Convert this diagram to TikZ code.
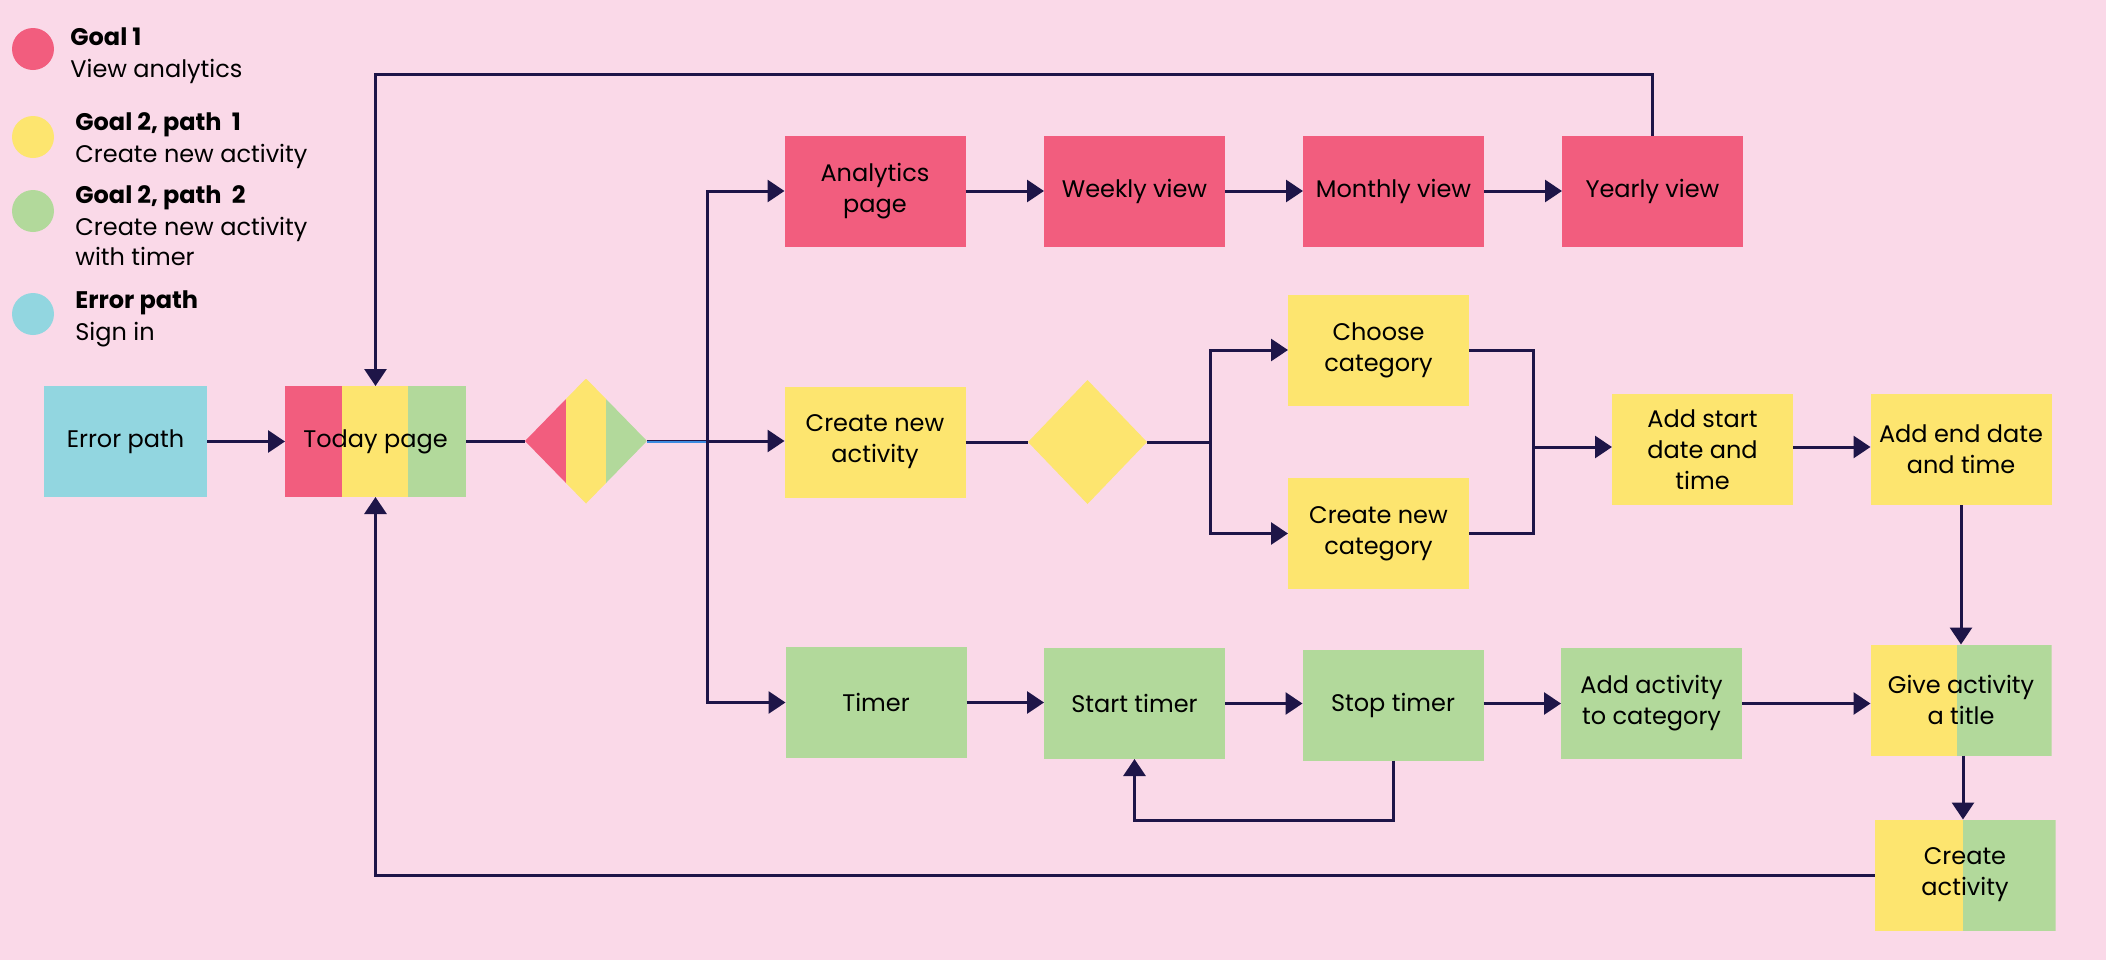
\documentclass[tikz,border=0pt]{standalone}
\usepackage{fontspec}
\setmainfont{Poppins}
\usetikzlibrary{arrows.meta,shapes.geometric,calc}
\definecolor{bgpink}{HTML}{FAD9E8}
\definecolor{gred}{HTML}{F25D7E}
\definecolor{gyel}{HTML}{FDE56F}
\definecolor{ggrn}{HTML}{B2D99B}
\definecolor{gblu}{HTML}{92D6E0}
\definecolor{lnc}{HTML}{1E1548}
\definecolor{selblue}{HTML}{3C8BE0}
\tikzset{
  box/.style={rectangle, minimum width=90.5pt, minimum height=55.5pt, inner sep=1pt, outer sep=0pt,
    align=center, font=\fontsize{12}{15.5}\selectfont, text=black},
  redbox/.style={box, fill=gred},
  yelbox/.style={box, fill=gyel},
  grnbox/.style={box, fill=ggrn},
  blubox/.style={box, fill=gblu},
  conn/.style={draw=lnc, line width=1.5pt},
  arr/.style={conn, -{Triangle[length=8.5pt,width=11pt]}},
  legtxt/.style={anchor=base west, inner sep=0pt, font=\fontsize{12}{15.5}\selectfont, text=black},
  legdot/.style={circle, minimum size=21pt, inner sep=0pt},
}
\begin{document}
\begin{tikzpicture}[x=0.5pt,y=-0.5pt]
\fill[bgpink] (0,0) rectangle (2106,960);
\useasboundingbox (0,0) rectangle (2106,960);

% legend
\node[legdot, fill=gred] (c1) at (33,49) {};
\node[legdot, fill=gyel] (c2) at (33,137) {};
\node[legdot, fill=ggrn] (c3) at (33,211) {};
\node[legdot, fill=gblu] (c4) at (33,314) {};
\node[legtxt] (l1a) at (70,45) {\textbf{Goal 1}};
\node[legtxt] (l1b) at (70,77) {View analytics};
\node[legtxt] (l2a) at (75,130) {\textbf{Goal 2, path\ \ 1}};
\node[legtxt] (l2b) at (75,162) {Create new activity};
\node[legtxt] (l3a) at (75,203) {\textbf{Goal 2, path\ \ 2}};
\node[legtxt] (l3b) at (75,235) {Create new activity};
\node[legtxt] (l3c) at (75,265) {with timer};
\node[legtxt] (l4a) at (75,308) {\textbf{Error path}};
\node[legtxt] (l4b) at (75,340) {Sign in};

% nodes
\node[blubox, minimum width=81.5pt] (err) at (125.5,441.5) {Error path};
\node[box, path picture={
  \fill[gred] (path picture bounding box.north west) rectangle ($(path picture bounding box.south west)+(56.5,0)$);
  \fill[gyel] ($(path picture bounding box.north west)+(56.5,0)$) rectangle ($(path picture bounding box.south west)+(122.5,0)$);
  \fill[ggrn] ($(path picture bounding box.north west)+(122.5,0)$) rectangle (path picture bounding box.south east);
}] (today) at (375.5,441.5) {Today page};
\node[diamond, minimum width=61pt, minimum height=62.5pt, inner sep=0pt, outer sep=0pt, path picture={
  \fill[gred] (path picture bounding box.north west) rectangle ($(path picture bounding box.south west)+(41,0)$);
  \fill[gyel] ($(path picture bounding box.north west)+(41,0)$) rectangle ($(path picture bounding box.south west)+(81,0)$);
  \fill[ggrn] ($(path picture bounding box.north west)+(81,0)$) rectangle (path picture bounding box.south east);
}] (d1) at (586,441) {};

\node[redbox] (analytics) at (875,191) {Analytics\\page};
\node[redbox] (weekly) at (1134.5,191) {Weekly view};
\node[redbox] (monthly) at (1393.5,191) {Monthly view};
\node[redbox] (yearly) at (1652.5,191) {Yearly view};

\node[yelbox] (create) at (875,442) {Create new\\activity};
\node[diamond, fill=gyel, minimum width=59.5pt, minimum height=62pt, inner sep=0pt, outer sep=0pt] (d2) at (1087.5,442) {};
\node[yelbox] (choose) at (1378.5,350) {Choose\\category};
\node[yelbox] (newcat) at (1378.5,533.5) {Create new\\category};
\node[yelbox] (addstart) at (1702.5,449.5) {Add start\\date and\\time};
\node[yelbox] (addend) at (1961,449.5) {Add end date\\and time};

\node[grnbox] (timer) at (876,702.5) {Timer};
\node[grnbox] (start) at (1134.5,703.5) {Start timer};
\node[grnbox] (stop) at (1393,705) {Stop timer};
\node[grnbox] (addcat) at (1651.5,703.5) {Add activity\\to category};
\node[box, path picture={
  \fill[gyel] (path picture bounding box.north west) rectangle ($(path picture bounding box.south west)+(86,0)$);
  \fill[ggrn] ($(path picture bounding box.north west)+(86,0)$) rectangle (path picture bounding box.south east);
}] (give) at (1961,700) {Give activity\\a title};
\node[box, path picture={
  \fill[gyel] (path picture bounding box.north west) rectangle ($(path picture bounding box.south west)+(88,0)$);
  \fill[ggrn] ($(path picture bounding box.north west)+(88,0)$) rectangle (path picture bounding box.south east);
}] (createact) at (1965,875) {Create\\activity};

% coordinates
\coordinate (tr) at (707,441);
\coordinate (br) at (1210,442);
\coordinate (mg) at (1533,447);
\coordinate (topl) at (0,74);
\coordinate (loopl) at (0,820);

% connectors
\draw[arr] (err.east) -- (err.east -| today.west);
\draw[conn] (today.east |- d1.west) -- (d1.west);
\draw[conn] (d1.east) -- (tr);
\draw[selblue, line width=1pt] ([yshift=-0.4pt]d1.east) -- ([yshift=-0.4pt]tr);
\draw[arr] (tr) -- (tr -| create.west);
\draw[arr] (tr) |- (analytics.west);
\draw[arr] (tr) |- (timer.west);

\draw[arr] (analytics.east) -- (weekly.west);
\draw[arr] (weekly.east) -- (monthly.west);
\draw[arr] (monthly.east) -- (yearly.west);
\draw[arr] (yearly.north) -- (yearly.north |- topl) -| (today.north);

\draw[conn] (create.east) -- (d2.west);
\draw[conn] (d2.east) -- (br);
\draw[arr] (br) |- (choose.west);
\draw[arr] (br) |- (newcat.west);
\draw[conn] (choose.east) -| (mg);
\draw[conn] (newcat.east) -| (mg);
\draw[arr] (mg) -- (mg -| addstart.west);
\draw[arr] (addstart.east |- mg) -- (addend.west |- mg);
\draw[arr] (addend.south) -- (give.north);

\draw[arr] (timer.east) -- (timer.east -| start.west);
\draw[arr] (start.east) -- (start.east -| stop.west);
\draw[arr] (stop.east |- start.east) -- (start.east -| addcat.west);
\draw[arr] (addcat.east) -- (addcat.east -| give.west);
\draw[arr] (stop.south) -- (stop.south |- loopl) -| (start.south);
\draw[arr] ([xshift=1pt]give.south) -- ([xshift=1pt]give.south |- createact.north);
\draw[arr] (createact.west) -| (today.south);
\end{tikzpicture}
\end{document}
